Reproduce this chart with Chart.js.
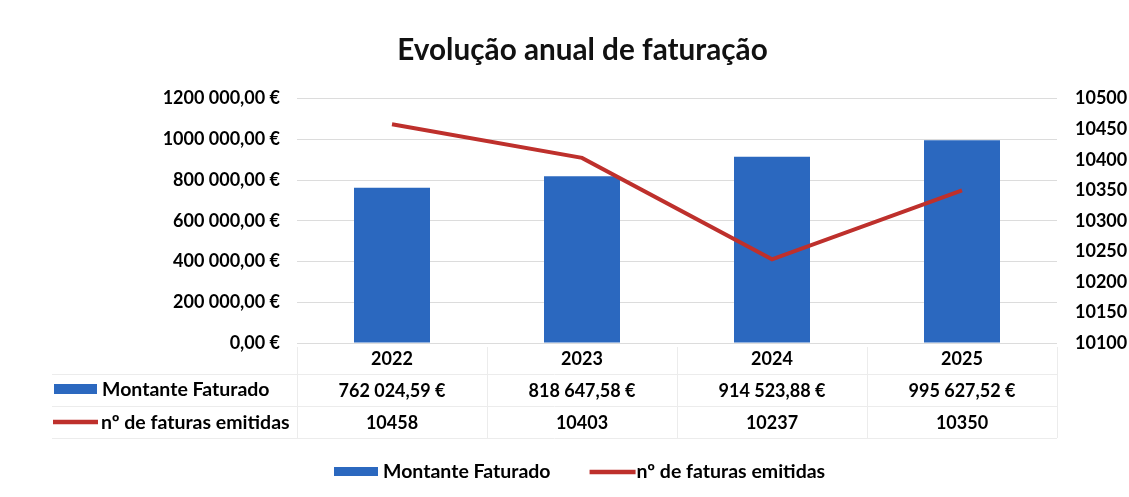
<!DOCTYPE html>
<html><head><meta charset="utf-8">
<script src="https://cdn.jsdelivr.net/npm/chart.js@4"></script>
<style>html,body{margin:0;padding:0;background:#fff}#wrap{width:1129px;height:497px;position:relative}</style>
</head><body><div id="wrap"><canvas id="c"></canvas></div>
<script>
// ---- data ----
const categories = ['2022', '2023', '2024', '2025'];
const montanteFaturado = [762024.59, 818647.58, 914523.88, 995627.52];
const numFaturas = [10458, 10403, 10237, 10350];
const leftTickLabels = ['0,00 €', '200 000,00 €', '400 000,00 €', '600 000,00 €', '800 000,00 €', '1000 000,00 €', '1200 000,00 €'];
const rightTickLabels = ['10100', '10150', '10200', '10250', '10300', '10350', '10400', '10450', '10500'];
const seriesNames = ['Montante Faturado', 'nº de faturas emitidas'];
const chartTitle = 'Evolução anual de faturação';

// ---- style ----
const BLUE = '#2B68BF';
const RED = '#BE302C';
const FAMILY = 'Lato, "Open Sans", sans-serif';
const FSIZE = 18;
const FONT = 'bold ' + FSIZE + 'px ' + FAMILY;
const NAME_FONT = 'bold 19.5px ' + FAMILY;
const PAD_LEFT = 36;

function fmtEuro(v) {
  const parts = v.toFixed(2).split('.');
  const int = parts[0].replace(/\B(?=(\d{3})+(?!\d))/g, ' ');
  return int + ',' + parts[1] + ' €';
}

const tablePlugin = {
  id: 'dataTable',
  afterDraw(chart) {
    const ctx = chart.ctx;
    const area = chart.chartArea;
    const x = chart.scales.x;
    const b = area.bottom;
    const half = (x.getPixelForValue(1) - x.getPixelForValue(0)) / 2;
    ctx.save();
    // table grid (faint)
    ctx.strokeStyle = '#ececec';
    ctx.lineWidth = 1;
    const rows = [b + 31, b + 63, b + 95];
    rows.forEach(yy => {
      ctx.beginPath(); ctx.moveTo(52, Math.round(yy) + 0.5); ctx.lineTo(area.right, Math.round(yy) + 0.5); ctx.stroke();
    });
    for (let i = 0; i <= categories.length; i++) {
      const xx = Math.round(x.getPixelForValue(0) - half + i * 2 * half) + 0.5;
      ctx.beginPath(); ctx.moveTo(xx, b + 4); ctx.lineTo(xx, rows[2]); ctx.stroke();
    }
    // values
    ctx.font = FONT;
    ctx.fillStyle = '#000';
    ctx.textAlign = 'center';
    ctx.textBaseline = 'middle';
    categories.forEach((c, i) => {
      const cx = x.getPixelForValue(i);
      ctx.fillText(fmtEuro(montanteFaturado[i]), cx, b + 48);
      ctx.fillText(String(numFaturas[i]), cx, b + 80);
    });
    // row keys
    ctx.textAlign = 'left';
    ctx.fillStyle = BLUE;
    ctx.fillRect(54, b + 41, 43, 10);
    ctx.strokeStyle = RED; ctx.lineWidth = 4.5;
    ctx.beginPath(); ctx.moveTo(53, b + 79); ctx.lineTo(98, b + 79); ctx.stroke();
    ctx.fillStyle = '#000';
    ctx.font = NAME_FONT;
    ctx.fillText(seriesNames[0], 102, b + 47);
    ctx.fillText(seriesNames[1], 101, b + 80);
    // bottom legend
    const ly = chart.height - 25;
    let lx = 334;
    ctx.fillStyle = BLUE;
    ctx.fillRect(lx, ly - 5, 44, 9);
    lx += 49;
    ctx.fillStyle = '#000';
    ctx.fillText(seriesNames[0], lx, ly);
    lx += ctx.measureText(seriesNames[0]).width + 39;
    ctx.strokeStyle = RED; ctx.lineWidth = 4.5;
    ctx.beginPath(); ctx.moveTo(lx, ly); ctx.lineTo(lx + 46, ly); ctx.stroke();
    lx += 47;
    ctx.fillText(seriesNames[1], lx, ly);
    ctx.restore();
  }
};

new Chart(document.getElementById('c'), {
  data: {
    labels: categories,
    datasets: [
      {
        type: 'line', label: seriesNames[1], data: numFaturas, yAxisID: 'y1',
        borderColor: RED, backgroundColor: RED, borderWidth: 4, pointRadius: 0,
        tension: 0, order: 0
      },
      {
        type: 'bar', label: seriesNames[0], data: montanteFaturado, yAxisID: 'y',
        backgroundColor: BLUE, borderWidth: 0,
        categoryPercentage: 0.8, barPercentage: 0.5, order: 1
      }
    ]
  },
  options: {
    responsive: true,
    maintainAspectRatio: false,
    animation: false,
    layout: { padding: { top: 0, bottom: 0, left: PAD_LEFT, right: 0 } },
    plugins: {
      legend: { display: false },
      tooltip: { enabled: false },
      title: {
        display: true, text: chartTitle, color: '#111',
        font: { family: FAMILY, size: 29.7, weight: 'bold' },
        padding: { top: 33, bottom: 30 }
      }
    },
    scales: {
      x: {
        grid: { display: false, drawTicks: false },
        border: { display: false },
        ticks: { color: '#000', font: { family: FAMILY, size: FSIZE, weight: 'bold' }, padding: 5 },
        afterFit(s) { s.height = 154; }
      },
      y: {
        position: 'left', min: 0, max: 1200000,
        grid: { color: '#dcdcdc', drawTicks: false },
        border: { display: false },
        ticks: {
          stepSize: 200000, padding: 17, color: '#000',
          font: { family: FAMILY, size: FSIZE, weight: 'bold' },
          callback: (v, i) => leftTickLabels[i]
        },
        afterFit(s) { s.width = 297 - PAD_LEFT; }
      },
      y1: {
        position: 'right', min: 10100, max: 10500,
        grid: { display: false, drawTicks: false },
        border: { display: false },
        ticks: {
          stepSize: 50, padding: 18, color: '#000',
          font: { family: FAMILY, size: FSIZE, weight: 'bold' },
          callback: (v, i) => rightTickLabels[i]
        },
        afterFit(s) { s.width = 72; }
      }
    }
  },
  plugins: [tablePlugin]
});
</script>
</body></html>
